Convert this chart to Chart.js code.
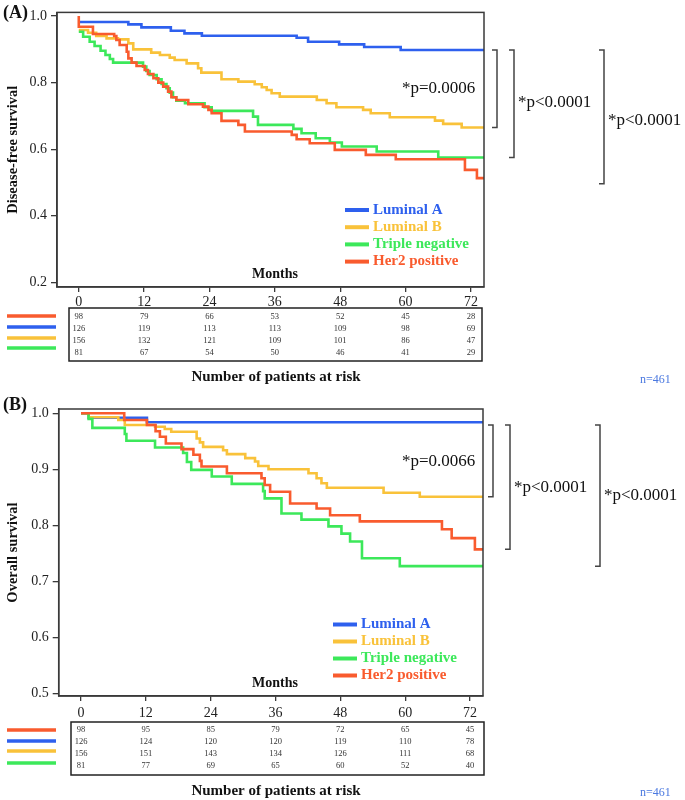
<!DOCTYPE html>
<html>
<head>
<meta charset="utf-8">
<script src="https://cdn.jsdelivr.net/npm/chart.js@4.4.0/dist/chart.umd.min.js"></script>
<style>
  body { margin: 0; background: #fff; }
  #wrap { position: relative; width: 685px; height: 800px; }
  .panel { position: absolute; left: 0; }
</style>
</head>
<body>
<div id="wrap">
  <div class="panel" style="top:0"><canvas id="chartA" width="685" height="390"></canvas></div>
  <div class="panel" style="top:390px"><canvas id="chartB" width="685" height="410"></canvas></div>
</div>
<script>
// ---- data: (A) disease-free survival, step start months and survival values ----
const xTicks = [0, 12, 24, 36, 48, 60, 72];

const dfsLumAMonths = [0, 9.1, 11.5, 16.9, 19.4, 22.6, 40.0, 42.1, 47.8, 52.4, 59.1, 74.4];
const dfsLumAValues = [0.982, 0.975, 0.966, 0.956, 0.948, 0.941, 0.935, 0.923, 0.915, 0.907, 0.898, 0.898];

const dfsLumBMonths = [0, 1.7, 3.2, 5.1, 7.2, 9.1, 10.0, 13.3, 14.9, 16.7, 17.6, 19.8, 21.9, 22.5, 26.2, 29.3, 32.3, 33.6, 34.5, 35.4, 36.9, 43.7, 45.5, 47.3, 52.2, 53.6, 57.1, 65.4, 66.9, 70.3, 74.4];
const dfsLumBValues = [0.958, 0.95, 0.94, 0.933, 0.93, 0.918, 0.9, 0.89, 0.883, 0.875, 0.868, 0.858, 0.843, 0.83, 0.81, 0.803, 0.795, 0.786, 0.778, 0.768, 0.758, 0.748, 0.738, 0.726, 0.718, 0.708, 0.696, 0.686, 0.676, 0.665, 0.665];

const dfsTnMonths = [0, 0.8, 2.0, 2.9, 4.0, 4.9, 5.7, 6.3, 11.8, 12.4, 13.0, 14.3, 15.2, 16.1, 16.7, 17.3, 17.9, 19.5, 23.1, 24.4, 32.0, 32.9, 39.4, 40.9, 43.5, 46.1, 48.3, 54.7, 66.0, 74.4];
const dfsTnValues = [0.953, 0.938, 0.923, 0.91, 0.896, 0.883, 0.871, 0.86, 0.848, 0.835, 0.823, 0.81, 0.796, 0.783, 0.77, 0.756, 0.746, 0.738, 0.726, 0.715, 0.698, 0.673, 0.661, 0.648, 0.633, 0.62, 0.608, 0.593, 0.575, 0.575];

const dfsHer2Months = [0, 0, 2.6, 6.5, 6.9, 7.5, 8.8, 9.1, 9.7, 10.6, 12.1, 12.7, 13.7, 14.6, 15.5, 16.4, 17.0, 17.9, 20.1, 22.8, 23.8, 24.4, 26.2, 29.3, 30.5, 39.1, 40.0, 42.4, 47.0, 52.7, 58.2, 70.9, 73.1, 74.4];
const dfsHer2Values = [1.0, 0.968, 0.946, 0.94, 0.928, 0.913, 0.893, 0.873, 0.86, 0.85, 0.838, 0.826, 0.813, 0.8, 0.788, 0.773, 0.756, 0.748, 0.735, 0.728, 0.718, 0.708, 0.685, 0.673, 0.653, 0.643, 0.63, 0.618, 0.598, 0.583, 0.57, 0.538, 0.513, 0.513];

// ---- data: (B) overall survival ----
const osLumAMonths = [0, 1.4, 12.2, 74.4];
const osLumAValues = [1.0, 0.992, 0.984, 0.984];

const osLumBMonths = [0, 1.4, 6.9, 8.1, 13.7, 15.5, 16.7, 21.4, 22.0, 22.6, 26.3, 27.0, 30.4, 32.2, 32.8, 34.7, 42.1, 43.6, 44.5, 45.5, 56.0, 62.7, 74.4];
const osLumBValues = [1.0, 0.993, 0.988, 0.979, 0.976, 0.972, 0.967, 0.955, 0.948, 0.94, 0.934, 0.927, 0.92, 0.914, 0.906, 0.9, 0.893, 0.884, 0.875, 0.867, 0.858, 0.851, 0.851];

const osTnMonths = [0, 1.4, 2.1, 8.1, 8.4, 13.7, 18.9, 19.6, 20.4, 24.2, 27.9, 33.7, 34.0, 37.1, 40.8, 45.8, 48.2, 49.8, 52.0, 59.0, 74.4];
const osTnValues = [1.0, 0.99, 0.974, 0.963, 0.951, 0.939, 0.929, 0.913, 0.899, 0.887, 0.874, 0.861, 0.848, 0.821, 0.81, 0.798, 0.785, 0.771, 0.741, 0.727, 0.727];

const osHer2Months = [0, 8.0, 12.2, 13.8, 14.6, 15.7, 18.6, 20.8, 22.0, 22.3, 27.0, 33.4, 34.0, 35.0, 38.7, 43.6, 46.1, 51.6, 66.8, 68.6, 72.9, 74.4];
const osHer2Values = [1.0, 0.988, 0.979, 0.968, 0.958, 0.946, 0.936, 0.926, 0.915, 0.905, 0.893, 0.884, 0.872, 0.86, 0.839, 0.83, 0.818, 0.807, 0.793, 0.777, 0.757, 0.757];

// ---- numbers at risk (rows: Her2, Luminal A, Luminal B, Triple negative) ----
const dfsRiskHer2 = [98, 79, 66, 53, 52, 45, 28];
const dfsRiskLumA = [126, 119, 113, 113, 109, 98, 69];
const dfsRiskLumB = [156, 132, 121, 109, 101, 86, 47];
const dfsRiskTn = [81, 67, 54, 50, 46, 41, 29];

const osRiskHer2 = [98, 95, 85, 79, 72, 65, 45];
const osRiskLumA = [126, 124, 120, 120, 119, 110, 78];
const osRiskLumB = [156, 151, 143, 134, 126, 111, 68];
const osRiskTn = [81, 77, 69, 65, 60, 52, 40];

const dfsYTicks = [0.2, 0.4, 0.6, 0.8, 1.0];
const osYTicks = [0.5, 0.6, 0.7, 0.8, 0.9, 1.0];

const groupNames = ['Luminal A', 'Luminal B', 'Triple negative', 'Her2 positive'];

// ---- styling ----
const SERIF = '"Liberation Serif", "DejaVu Serif", serif';
const C_LUMA = '#2e60ee';
const C_LUMB = '#f9c23a';
const C_TN = '#3ce85a';
const C_HER2 = '#f95b2e';
const AXIS = '#3a3a3a';

function pts(months, values) {
  return months.map((m, i) => ({ x: m, y: values[i] }));
}

function line(label, months, values, color) {
  return {
    label: label,
    data: pts(months, values),
    borderColor: color,
    backgroundColor: color,
    borderWidth: 2.6,
    stepped: true,
    pointRadius: 0,
    fill: false
  };
}

function makePanel(id, p) {
  const extras = {
    id: 'extras',
    afterDraw(chart) {
      const ctx = chart.ctx;
      const a = chart.chartArea;
      const xs = chart.scales.x;
      const ys = chart.scales.y;
      ctx.save();

      // plot frame
      ctx.strokeStyle = AXIS;
      ctx.lineWidth = 1.5;
      ctx.strokeRect(a.left, a.top, a.right - a.left, a.bottom - a.top);

      // panel letter
      ctx.fillStyle = '#111';
      ctx.font = 'bold 18px ' + SERIF;
      ctx.textBaseline = 'middle';
      ctx.textAlign = 'left';
      ctx.fillText(p.letter, 3, p.letterY);

      // legend inside plot
      const lc = [C_LUMA, C_LUMB, C_TN, C_HER2];
      ctx.font = 'bold 15px ' + SERIF;
      groupNames.forEach((name, i) => {
        const yy = p.legY + i * p.legStep;
        ctx.strokeStyle = lc[i];
        ctx.lineWidth = 4;
        ctx.beginPath();
        ctx.moveTo(p.legX, yy);
        ctx.lineTo(p.legX + 24, yy);
        ctx.stroke();
        ctx.fillStyle = lc[i];
        ctx.fillText(name, p.legX + 28, yy);
      });

      // "Months" inside plot
      ctx.fillStyle = '#111';
      ctx.font = 'bold 14px ' + SERIF;
      ctx.textAlign = 'center';
      ctx.fillText('Months', 275, p.monthsY);

      // p values and brackets
      ctx.font = '17px ' + SERIF;
      ctx.textAlign = 'left';
      ctx.fillText(p.pMain, 402, ys.getPixelForValue(p.pMainVal));
      ctx.strokeStyle = '#444';
      ctx.lineWidth = 1.5;
      p.brackets.forEach(b => {
        const t = ys.getPixelForValue(b.top);
        const bt = ys.getPixelForValue(b.bottom);
        ctx.beginPath();
        ctx.moveTo(b.x - 5, t);
        ctx.lineTo(b.x, t);
        ctx.lineTo(b.x, bt);
        ctx.lineTo(b.x - 5, bt);
        ctx.stroke();
        if (b.text) {
          ctx.fillText(b.text, b.x + 4, ys.getPixelForValue(b.textVal));
        }
      });

      // numbers at risk table
      const tb = p.table;
      ctx.strokeStyle = '#222';
      ctx.lineWidth = 1.5;
      ctx.strokeRect(tb.left, tb.top, tb.right - tb.left, tb.bottom - tb.top);
      ctx.fillStyle = '#333';
      ctx.font = '8.5px ' + SERIF;
      ctx.textAlign = 'center';
      const rowColors = [C_HER2, C_LUMA, C_LUMB, C_TN];
      p.risk.forEach((row, r) => {
        const yy = tb.rowY[r];
        row.forEach((n, c) => {
          ctx.fillText(String(n), xs.getPixelForValue(xTicks[c]), yy);
        });
        ctx.strokeStyle = rowColors[r];
        ctx.lineWidth = 3.5;
        ctx.beginPath();
        ctx.moveTo(7, tb.keyY[r]);
        ctx.lineTo(56, tb.keyY[r]);
        ctx.stroke();
      });

      ctx.fillStyle = '#111';
      ctx.font = 'bold 15px ' + SERIF;
      ctx.fillText('Number of patients at risk', 276, p.riskTitleY);

      ctx.fillStyle = '#4a78e0';
      ctx.font = '12px ' + SERIF;
      ctx.textAlign = 'left';
      ctx.fillText('n=461', 640, p.nY);

      ctx.restore();
    }
  };

  return new Chart(document.getElementById(id), {
    type: 'line',
    data: {
      datasets: [
        line(groupNames[3], p.her2[0], p.her2[1], C_HER2),
        line(groupNames[2], p.tn[0], p.tn[1], C_TN),
        line(groupNames[1], p.lumB[0], p.lumB[1], C_LUMB),
        line(groupNames[0], p.lumA[0], p.lumA[1], C_LUMA)
      ]
    },
    options: {
      responsive: false,
      animation: false,
      layout: { padding: p.padding },
      plugins: { legend: { display: false }, tooltip: { enabled: false } },
      scales: {
        x: {
          type: 'linear',
          min: p.xMin,
          max: p.xMax,
          afterBuildTicks: s => { s.ticks = xTicks.map(v => ({ value: v })); },
          afterFit: s => { s.height = 25; },
          ticks: { color: '#222', font: { family: SERIF, size: 14 }, padding: p.xPad, maxRotation: 0 },
          grid: { drawOnChartArea: false, tickLength: 5, color: AXIS, lineWidth: 1.3 },
          border: { color: AXIS, width: 1.5 }
        },
        y: {
          min: p.yMin,
          max: p.yMax,
          afterBuildTicks: s => { s.ticks = p.yTicks.map(v => ({ value: v })); },
          afterFit: s => { s.width = p.yWidth; },
          ticks: { color: '#222', font: { family: SERIF, size: 14 }, padding: 4, callback: v => v.toFixed(1) },
          grid: { drawOnChartArea: false, tickLength: 6, color: AXIS, lineWidth: 1.3 },
          border: { color: AXIS, width: 1.5 },
          title: { display: true, text: p.yTitle, color: '#111', font: { family: SERIF, size: 14.5, weight: 'bold' }, padding: { top: 5, bottom: 0 } }
        }
      }
    },
    plugins: [extras]
  });
}

makePanel('chartA', {
  letter: '(A)', letterY: 13,
  lumA: [dfsLumAMonths, dfsLumAValues], lumB: [dfsLumBMonths, dfsLumBValues],
  tn: [dfsTnMonths, dfsTnValues], her2: [dfsHer2Months, dfsHer2Values],
  risk: [dfsRiskHer2, dfsRiskLumA, dfsRiskLumB, dfsRiskTn],
  xMin: -4.0, xMax: 74.4, yMin: 0.186, yMax: 1.011, yTicks: dfsYTicks, yWidth: 57, xPad: 2,
  yTitle: 'Disease-free survival',
  padding: { left: 0, top: 12, right: 201, bottom: 78 },
  legX: 345, legY: 210, legStep: 17.2, monthsY: 274,
  pMain: '*p=0.0006', pMainVal: 0.783,
  brackets: [
    { x: 497, top: 0.898, bottom: 0.665 },
    { x: 514, top: 0.898, bottom: 0.575, text: '*p<0.0001', textVal: 0.739 },
    { x: 604, top: 0.898, bottom: 0.496, text: '*p<0.0001', textVal: 0.685 }
  ],
  table: { left: 69, right: 482, top: 308, bottom: 361, rowY: [316.5, 328.5, 340.5, 352.5], keyY: [316, 327, 338, 348] },
  riskTitleY: 377, nY: 380
});

makePanel('chartB', {
  letter: '(B)', letterY: 15,
  lumA: [osLumAMonths, osLumAValues], lumB: [osLumBMonths, osLumBValues],
  tn: [osTnMonths, osTnValues], her2: [osHer2Months, osHer2Values],
  risk: [osRiskHer2, osRiskLumA, osRiskLumB, osRiskTn],
  xMin: -4.13, xMax: 74.4, yMin: 0.495, yMax: 1.0077, yTicks: osYTicks, yWidth: 58.7, xPad: 4,
  yTitle: 'Overall survival',
  padding: { left: 0, top: 19, right: 202, bottom: 79 },
  legX: 333, legY: 234.5, legStep: 17, monthsY: 293,
  pMain: '*p=0.0066', pMainVal: 0.914,
  brackets: [
    { x: 493, top: 0.979, bottom: 0.851 },
    { x: 510, top: 0.979, bottom: 0.757, text: '*p<0.0001', textVal: 0.868 },
    { x: 600, top: 0.979, bottom: 0.727, text: '*p<0.0001', textVal: 0.854 }
  ],
  table: { left: 71, right: 484, top: 332, bottom: 385, rowY: [340, 352, 364, 376], keyY: [340, 351, 361, 373] },
  riskTitleY: 401, nY: 403
});
</script>
</body>
</html>
